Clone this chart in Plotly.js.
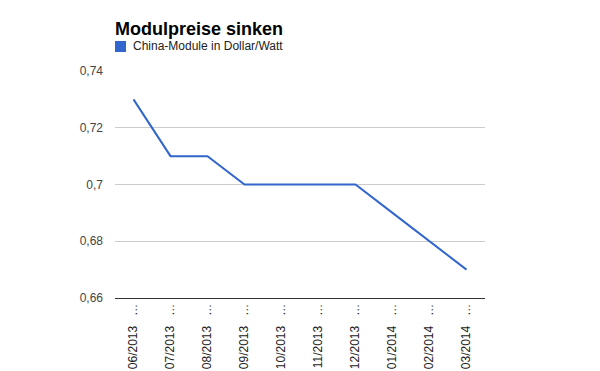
<!DOCTYPE html>
<html>
<head>
<meta charset="utf-8">
<script src="https://cdn.plot.ly/plotly-3.0.1.min.js"></script>
<style>html,body{margin:0;padding:0;background:#fff;}#chart{width:600px;height:371px;}</style>
</head>
<body>
<div id="chart"></div>
<script>
const months = ["06/2013","07/2013","08/2013","09/2013","10/2013","11/2013","12/2013","01/2014","02/2014","03/2014"];
const prices = [0.73, 0.71, 0.71, 0.70, 0.70, 0.70, 0.70, 0.69, 0.68, 0.67];
const yTicks = [0.66, 0.68, 0.70, 0.72, 0.74];
const yTickLabels = ["0,66", "0,68", "0,7", "0,72", "0,74"];
const seriesName = "China-Module in Dollar/Watt";
const chartTitle = "Modulpreise sinken";

const tickText = months.map(m => m + "\u00a0\u00a0\u00a0\u2026");

const trace = {
  type: "scatter", mode: "lines", x: months, y: prices, name: seriesName,
  line: {color: "#3366cc", width: 2}, showlegend: false, hoverinfo: "x+y"
};

const layout = {
  width: 600, height: 371,
  margin: {l: 115, r: 115, t: 71, b: 73},
  paper_bgcolor: "#fff", plot_bgcolor: "#fff",
  font: {family: "Arial, 'Liberation Sans', sans-serif", size: 12, color: "#444"},
  showlegend: false,
  title: {text: "<b>" + chartTitle + "</b>", font: {size: 18, color: "#000"},
    x: 0, xanchor: "left", xref: "paper", y: 1 - 29/371, yanchor: "middle", yref: "container"},
  xaxis: {type: "category", range: [-0.5, 9.5], tickvals: months, ticktext: tickText,
    tickangle: -90, showgrid: false, ticks: "", showline: true, linecolor: "#333", linewidth: 1,
    tickfont: {size: 12, color: "#222"}, fixedrange: true, zeroline: false},
  yaxis: {range: [0.66, 0.74], tickvals: yTicks, ticktext: yTickLabels, showgrid: true,
    gridcolor: "#ccc", gridwidth: 1, zeroline: false, ticks: "", showline: false,
    tickfont: {size: 12, color: "#444"}, fixedrange: true, ticklabelstandoff: 11},
  shapes: [{type: "rect", xref: "paper", yref: "paper", x0: 0, x1: 11/370,
    y0: 1 + (71-52)/227, y1: 1 + (71-41)/227, fillcolor: "#3366cc", line: {width: 0}}],
  annotations: [{xref: "paper", yref: "paper", x: 16/370, y: 1 + (71-46.5)/227,
    xanchor: "left", yanchor: "middle", text: seriesName, showarrow: false,
    font: {size: 12, color: "#222"}}]
};

Plotly.newPlot("chart", [trace], layout, {displayModeBar: false, staticPlot: true});
</script>
</body>
</html>
